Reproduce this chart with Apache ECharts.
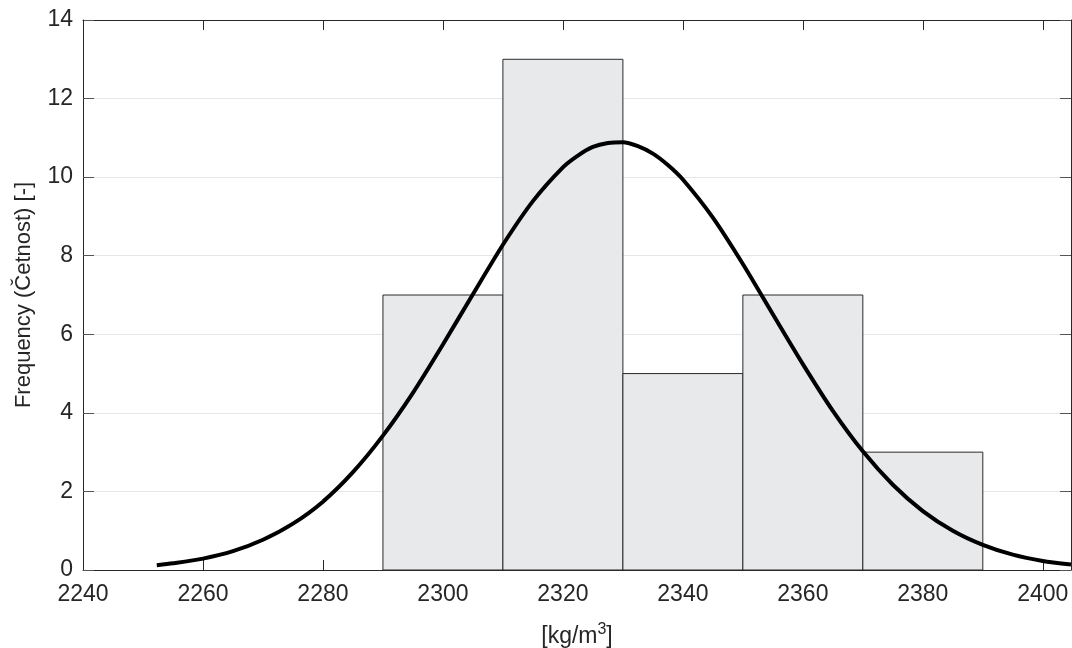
<!DOCTYPE html>
<html>
<head>
<meta charset="utf-8">
<script src="https://cdn.jsdelivr.net/npm/echarts@6/dist/echarts.min.js"></script>
<style>html,body{margin:0;padding:0;background:#fff}#c{width:1072px;height:648px}</style>
</head>
<body>
<div id="c"></div>
<script>
// Histogram bins: [left edge, right edge, count]
var binEdges = [2290, 2310, 2330, 2350, 2370, 2390];
var binCounts = [7, 13, 5, 7, 3];
// Fitted curve points
var curveX = [2252.3, 2255, 2260, 2265, 2270, 2275, 2280, 2285, 2290, 2295, 2300, 2305, 2310, 2315, 2320, 2322.5, 2325, 2327.5, 2330, 2332.5, 2335, 2337.5, 2340, 2345, 2350, 2355, 2360, 2365, 2370, 2375, 2380, 2385, 2390, 2395, 2400, 2404.7];
var curveY = [0.12, 0.17, 0.29, 0.48, 0.77, 1.18, 1.74, 2.49, 3.42, 4.51, 5.74, 7.02, 8.28, 9.39, 10.25, 10.55, 10.77, 10.87, 10.89, 10.79, 10.6, 10.31, 9.94, 8.97, 7.79, 6.51, 5.24, 4.05, 3.02, 2.17, 1.5, 1.0, 0.64, 0.39, 0.23, 0.14];
var xTicks = {min: 2240, max: 2404.7, interval: 20};
var yTicks = {min: 0, max: 14, interval: 2};

var histData = binCounts.map(function (c, i) { return [binEdges[i], binEdges[i + 1], c]; });
var lineData = curveX.map(function (x, i) { return [x, curveY[i]]; });

var txt = '#262626';
var font = 'Liberation Sans, Arial, Helvetica, sans-serif';
var chart = echarts.init(document.getElementById('c'), null, {renderer: 'canvas'});
chart.setOption({
  animation: false,
  textStyle: {fontFamily: font},
  grid: {left: 83, top: 20, width: 988, height: 550, containLabel: false, outerBoundsMode: 'none'},
  xAxis: [{
    type: 'value', min: xTicks.min, max: xTicks.max, interval: xTicks.interval,
    axisLine: {show: true, onZero: false, lineStyle: {color: txt, width: 1}},
    axisTick: {show: true, inside: true, length: 10, lineStyle: {color: txt}},
    axisLabel: {color: txt, fontSize: 23, margin: 13, fontFamily: font, hideOverlap: false,
      formatter: function (v) { return (Math.abs(v % 20) < 1e-6) ? String(v) : ''; }},
    splitLine: {show: false},
    name: '[kg/m{s|3}]', nameLocation: 'middle', nameGap: 52,
    nameTextStyle: {color: txt, fontSize: 23, fontFamily: font,
      rich: {s: {fontSize: 16, verticalAlign: 'top', padding: [0, 0, 14, 0], color: txt, fontFamily: font}}}
  }, {
    type: 'value', position: 'top', min: xTicks.min, max: xTicks.max, interval: xTicks.interval,
    axisLine: {show: true, onZero: false, lineStyle: {color: txt, width: 1}},
    axisTick: {show: true, inside: true, length: 10, lineStyle: {color: txt}},
    axisLabel: {show: false}, splitLine: {show: false}
  }],
  yAxis: [{
    type: 'value', min: yTicks.min, max: yTicks.max, interval: yTicks.interval,
    axisLine: {show: true, onZero: false, lineStyle: {color: txt, width: 1}},
    axisTick: {show: true, inside: true, length: 11, lineStyle: {color: '#555'}},
    axisLabel: {color: txt, fontSize: 23, margin: 10, fontFamily: font},
    splitLine: {show: true, lineStyle: {color: '#e6e6e6', width: 1}},
    name: 'Frequency (Četnost) [-]', nameLocation: 'middle', nameGap: 48,
    nameTextStyle: {color: txt, fontSize: 22, fontFamily: font}
  }, {
    type: 'value', position: 'right', min: yTicks.min, max: yTicks.max, interval: yTicks.interval,
    axisLine: {show: true, onZero: false, lineStyle: {color: txt, width: 1}},
    axisTick: {show: true, inside: true, length: 11, lineStyle: {color: '#555'}},
    axisLabel: {show: false}, splitLine: {show: false}
  }],
  series: [{
    type: 'custom',
    xAxisIndex: 0, yAxisIndex: 0,
    data: histData,
    encode: {x: [0, 1], y: 2},
    renderItem: function (params, api) {
      var p0 = api.coord([api.value(0), api.value(2)]);
      var p1 = api.coord([api.value(1), 0]);
      return {
        type: 'rect',
        shape: {x: p0[0], y: p0[1], width: p1[0] - p0[0], height: p1[1] - p0[1]},
        style: {fill: '#e8e9eb', stroke: '#2a2a2a', lineWidth: 1}
      };
    },
    z: 2
  }, {
    type: 'line',
    xAxisIndex: 0, yAxisIndex: 0,
    data: lineData,
    smooth: 0.25,
    showSymbol: false,
    symbol: 'none',
    clip: true,
    lineStyle: {color: '#000', width: 4},
    z: 3
  }]
});
</script>
</body>
</html>
